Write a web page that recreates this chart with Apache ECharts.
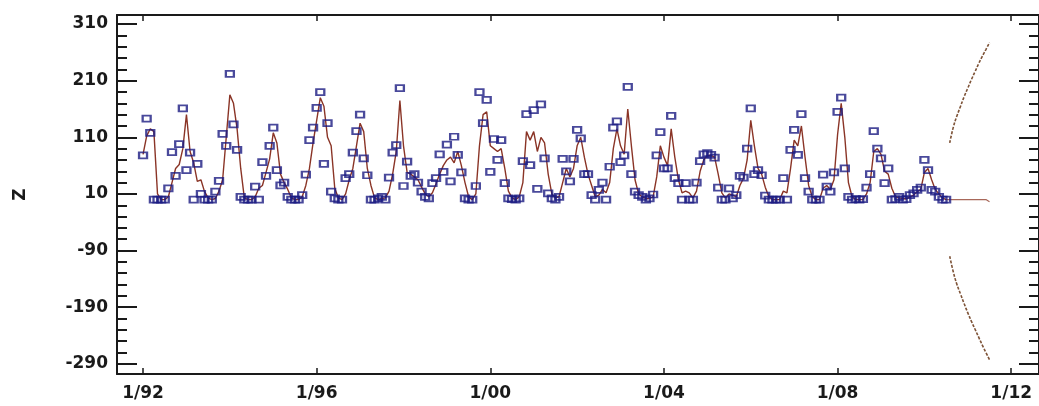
<!DOCTYPE html>
<html>
<head>
<meta charset="utf-8">
<script src="https://cdn.jsdelivr.net/npm/echarts@6/dist/echarts.min.js"></script>
<style>
  html, body { margin: 0; padding: 0; background: #fff; }
  #chart { width: 1039px; height: 406px; }
</style>
</head>
<body>
<div id="chart"></div>
<script>
// monthly series, first month = 1/92
var startYear = 1992;

var observed = [
  78, 143, 118, 0, 0, 0, 0, 20, 84, 42, 98, 161,
  52, 83, 0, 63, 10, 0, 0, 0, 14, 33, 116, 95,
  222, 133, 88, 5, 0, 0, 0, 23, 0, 66, 42, 95,
  127, 52, 25, 30, 5, 0, 0, 0, 8, 44, 105, 127,
  162, 190, 63, 135, 14, 2, 0, 0, 38, 45, 83, 121,
  150, 73, 43, 0, 0, 2, 5, 0, 39, 83, 96, 197,
  24, 67, 42, 45, 30, 14, 5, 2, 29, 38, 80, 49,
  97, 32, 111, 79, 48, 2, 0, 0, 24, 190, 135, 176,
  49, 107, 70, 105, 29, 2, 1, 0, 2, 68, 151, 61,
  158, 19, 168, 73, 11, 2, 0, 5, 72, 50, 32, 72,
  123, 108, 45, 45, 8, 0, 17, 30, 0, 58, 127, 138,
  66, 78, 199, 45, 14, 8, 5, 0, 2, 9, 78, 119,
  55, 55, 148, 38, 29, 0, 29, 0, 0, 30, 68, 80,
  82, 79, 74, 21, 0, 0, 20, 2, 8, 42, 39, 90,
  161, 45, 52, 43, 7, 0, 0, 0, 0, 38, 0, 88,
  123, 79, 151, 38, 14, 0, 0, 0, 44, 23, 14, 48,
  155, 180, 55, 5, 0, 1, 0, 1, 21, 45, 121, 90,
  73, 29, 55, 0, 1, 5, 0, 1, 8, 11, 17, 21,
  70, 52, 17, 14, 5, 0, 0
];

var fitted = [
  80, 112, 125, 120, 10, 0, 0, 5, 30, 55, 62, 90,
  150, 85, 65, 32, 35, 14, 3, 0, 2, 15, 35, 110,
  185, 170, 125, 55, 3, 0, 0, 5, 20, 25, 48, 72,
  118, 100, 45, 30, 18, 3, 0, 0, 5, 25, 55, 100,
  140, 180, 165, 110, 95, 20, 3, 0, 10, 35, 55, 95,
  135, 120, 55, 25, 3, 0, 2, 3, 15, 45, 85, 175,
  95, 48, 45, 40, 35, 22, 10, 5, 12, 28, 45, 60,
  70, 75, 65, 85, 60, 30, 5, 0, 10, 95, 150, 155,
  95, 90, 85, 90, 55, 15, 3, 0, 5, 30, 120, 105,
  120, 85, 110, 100, 45, 10, 3, 5, 30, 55, 40, 55,
  95, 110, 75, 45, 25, 5, 8, 18, 12, 30, 90, 125,
  95, 80, 160, 95, 35, 10, 5, 2, 2, 5, 40, 95,
  75, 60, 125, 75, 35, 12, 15, 12, 3, 15, 50, 70,
  78, 78, 75, 45, 12, 3, 10, 8, 5, 25, 38, 70,
  140, 95, 55, 45, 22, 5, 0, 0, 0, 15, 12, 55,
  105, 95, 130, 75, 25, 5, 0, 0, 20, 25, 18, 35,
  115, 170, 110, 30, 5, 0, 0, 0, 10, 30, 85, 90,
  80, 50, 45, 20, 5, 3, 2, 1, 5, 8, 14, 18,
  48, 55, 35, 18, 10, 3, 0
];

// 12 months ahead
var forecast = [0, 0, 0, 0, 0, 0, 0, 0, 0, 0, 0, -4];
var upperLimit = [100, 128, 148, 165, 182, 197, 212, 226, 240, 253, 265, 277];
var lowerLimit = [-100, -128, -150, -167, -184, -200, -215, -229, -243, -257, -270, -283];

var xTicks = [1992, 1996, 2000, 2004, 2008, 2012];
var yTicks = [-290, -190, -90, 10, 110, 210, 310];
var yMinorTicks = [-270, -250, -230, -210, -170, -150, -130, -110, -70, -50, -30, -10,
  30, 50, 70, 90, 130, 150, 170, 190, 230, 250, 270, 290];

function monthX(i) {
  return startYear + i / 12;
}

var obsData = observed.map(function (v, i) { return [monthX(i), v]; });
var fitData = fitted.map(function (v, i) { return [monthX(i), v]; });
var n = observed.length;
var fcData = [[monthX(n - 1), fitted[n - 1]]].concat(
  forecast.map(function (v, i) { return [monthX(n + i), v]; }));
var upData = upperLimit.map(function (v, i) { return [monthX(n + i), v]; });
var loData = lowerLimit.map(function (v, i) { return [monthX(n + i), v]; });

var ink = '#1a1a1a';
var labelFont = {
  fontFamily: 'DejaVu Sans',
  fontWeight: 'bold',
  fontSize: 17,
  color: ink
};

function yAxisOf(position, ticks, len, main) {
  return {
    type: 'value',
    position: position,
    min: -308,
    max: 326,
    splitLine: { show: false },
    axisLine: { show: main, onZero: false, lineStyle: { color: ink, width: 2 } },
    axisTick: {
      show: true,
      inside: true,
      length: len,
      customValues: ticks,
      lineStyle: { color: ink, width: 2 }
    },
    axisLabel: main && position === 'left'
      ? Object.assign({ show: true, customValues: yTicks, margin: 9 }, labelFont)
      : { show: false }
  };
}

var yLeft = yAxisOf('left', yTicks, 20, true);
yLeft.name = 'Z';
yLeft.nameLocation = 'middle';
yLeft.nameRotate = 90;
yLeft.nameGap = 88;
yLeft.nameTextStyle = Object.assign({}, labelFont);

var chart = echarts.init(document.getElementById('chart'));

var option = {
  backgroundColor: '#ffffff',
  animation: false,
  grid: { left: 117, right: -6, top: 15, bottom: 32 },
  xAxis: [
    {
      type: 'value',
      position: 'bottom',
      min: 1991.4,
      max: 2012.64,
      splitLine: { show: false },
      axisLine: { show: true, onZero: false, lineStyle: { color: ink, width: 2 } },
      axisTick: { show: true, inside: true, length: 6, customValues: xTicks, lineStyle: { color: ink, width: 1.5 } },
      axisLabel: Object.assign({
        show: true,
        customValues: xTicks,
        margin: 11,
        formatter: function (v) { return '1/' + String(Math.round(v)).slice(2); }
      }, labelFont)
    },
    {
      type: 'value',
      position: 'top',
      min: 1991.4,
      max: 2012.64,
      splitLine: { show: false },
      axisLine: { show: true, onZero: false, lineStyle: { color: ink, width: 2 } },
      axisTick: { show: true, inside: true, length: 6, customValues: xTicks, lineStyle: { color: ink, width: 1.5 } },
      axisLabel: { show: false }
    }
  ],
  yAxis: [
    yLeft,
    yAxisOf('left', yMinorTicks, 10, false),
    yAxisOf('right', yTicks, 20, true),
    yAxisOf('right', yMinorTicks, 10, false)
  ],
  series: [
    {
      type: 'line',
      data: fitData,
      symbol: 'none',
      lineStyle: { color: '#8a3426', width: 1.4 },
      z: 3
    },
    {
      type: 'line',
      data: fcData,
      symbol: 'none',
      lineStyle: { color: '#a8685a', width: 1.2 },
      z: 3
    },
    {
      type: 'line',
      data: upData,
      symbol: 'none',
      smooth: true,
      lineStyle: { color: '#7d5236', width: 1.6, type: [3, 1.5] },
      z: 3
    },
    {
      type: 'line',
      data: loData,
      symbol: 'none',
      smooth: true,
      lineStyle: { color: '#7d5236', width: 1.6, type: [3, 1.5] },
      z: 3
    },
    {
      type: 'scatter',
      data: obsData,
      symbol: 'rect',
      symbolSize: [8, 6],
      itemStyle: { color: 'rgba(255,255,255,0)', borderColor: '#1b1b82', borderWidth: 2 },
      z: 4
    }
  ]
};

chart.setOption(option);
</script>
</body>
</html>
